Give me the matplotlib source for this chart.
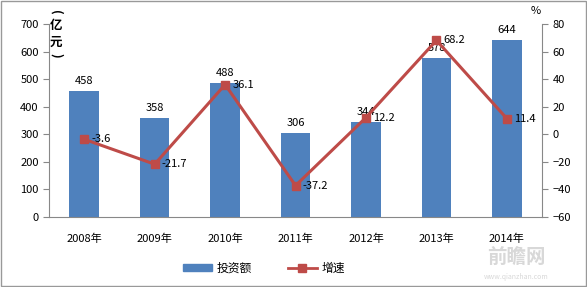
import matplotlib.pyplot as plt
import numpy as np
from matplotlib.patches import Patch
from matplotlib.lines import Line2D

plt.rcParams['font.family'] = ['Noto Sans CJK SC', 'DejaVu Sans']

years = ['2008年', '2009年', '2010年', '2011年', '2012年', '2013年', '2014年']
invest = [458, 358, 488, 306, 344, 578, 644]
growth = [-3.6, -21.7, 36.1, -37.2, 12.2, 68.2, 11.4]

bar_color = '#4F81BD'
line_color = '#BE4B48'

fig = plt.figure(figsize=(5.87, 2.87), dpi=100)
ax = fig.add_axes([0.0835, 0.244, 0.84, 0.672])
x = np.arange(len(years))

ax.bar(x, invest, width=0.42, color=bar_color, zorder=2)
for xi, v in zip(x, invest):
    ax.text(xi, v + 18, str(v), ha='center', va='bottom', fontsize=8)

ax.set_xlim(-0.5, len(years) - 0.5)
ax.set_ylim(0, 700)
ax.set_yticks(range(0, 701, 100))
ax.set_xticks(x)
ax.set_xticklabels(years, fontsize=8)
ax.tick_params(axis='y', labelsize=8, length=4, color='#888888')
ax.tick_params(axis='x', length=0, pad=12)
for s in ['top', 'right']:
    ax.spines[s].set_visible(False)
ax.spines['left'].set_color('#888888')
ax.spines['bottom'].set_color('#888888')

ax2 = ax.twinx()
ax2.plot(x, growth, color=line_color, lw=2.2, marker='s', markersize=6, zorder=3)
for xi, v in zip(x, growth):
    ax2.text(xi + 0.1, v, '%g' % v, ha='left', va='center', fontsize=8)
ax2.set_ylim(-60, 80)
ax2.set_yticks(range(-60, 81, 20))
ax2.tick_params(axis='y', labelsize=8, length=4, color='#888888')
for s in ['top', 'left', 'bottom']:
    ax2.spines[s].set_visible(False)
ax2.spines['right'].set_color('#888888')

# vertical unit label（亿元）
for ch, py, rot in [('(', 12, -90), ('亿', 25, 0), ('元', 42, 0), (')', 55, -90)]:
    fig.text(56 / 587, 1 - py / 287, ch, fontsize=9, fontweight='bold', ha='center', va='center',
             rotation=rot)
fig.text(0.912, 0.945, '%', fontsize=8, ha='center', va='bottom')

handles = [Patch(color=bar_color, label='投资额'),
           Line2D([0], [0], color=line_color, lw=2, marker='s', markersize=6, label='增速')]
fig.legend(handles=handles, loc='center', bbox_to_anchor=(0.45, 0.065), ncol=2,
           frameon=False, fontsize=8.5, handlelength=2.5, handleheight=0.5,
           handletextpad=0.4, columnspacing=3)

fig.text(0.88, 0.1, '前瞻网', fontsize=14, color='#d8d8d8', ha='center', va='center', fontweight='bold')
fig.text(0.88, 0.035, 'www.qianzhan.com', fontsize=5, color='#d8d8d8', ha='center', va='center')

fig.patches.append(plt.Rectangle((0.002, 0.004), 0.996, 0.992, transform=fig.transFigure,
                                 fill=False, edgecolor='#999999', lw=1))

fig.savefig('out.png', dpi=100)
